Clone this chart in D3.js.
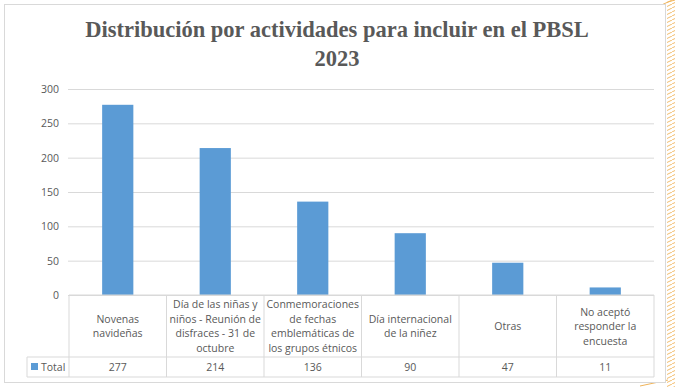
<!DOCTYPE html>
<html lang="es">
<head>
<meta charset="UTF-8">
<title>Distribución por actividades</title>
<style>
    body { margin: 0; background: #fff; }
    svg { display: block; }
    .lbl { font-family: "Open Sans", sans-serif; font-size: 10.5px; fill: #595959; }
</style>
</head>
<body>
<div id="chart"></div>
<script src="https://cdn.jsdelivr.net/npm/d3@7"></script>
<script>
// data
const categories = [
    "Novenas\nnavideñas",
    "Día de las niñas y\nniños - Reunión de\ndisfraces - 31 de\noctubre",
    "Conmemoraciones\nde fechas\nemblemáticas de\nlos grupos étnicos",
    "Día internacional\nde la niñez",
    "Otras",
    "No aceptó\nresponder la\nencuesta"
];
const totals = [277, 214, 136, 90, 47, 11];
const yTicks = [0, 50, 100, 150, 200, 250, 300];
const seriesName = "Total";
const titleLines = ["Distribución por actividades para incluir en el PBSL", "2023"];

const W = 675, H = 387;
const barColor = "#5b9bd5", grid = "#d9d9d9", txt = "#595959";

const svg = d3.select("#chart").append("svg")
    .attr("width", W).attr("height", H);

// orange hatched strip on the right
const defs = svg.append("defs");
const pat = defs.append("pattern").attr("id", "hatch")
    .attr("patternUnits", "userSpaceOnUse").attr("width", 8).attr("height", 4);
pat.append("line").attr("x1", 0).attr("y1", 4).attr("x2", 8).attr("y2", 0)
    .attr("stroke", "#f0b45a").attr("stroke-width", 0.9);
svg.append("rect").attr("x", 667).attr("y", 0).attr("width", 8).attr("height", H)
    .attr("fill", "url(#hatch)");
svg.append("path").attr("d", "M655,8 L668,2 L675,0").attr("fill", "none")
    .attr("stroke", "#f0b45a").attr("stroke-width", 1);
svg.append("path").attr("d", "M640,386 L668,380").attr("fill", "none")
    .attr("stroke", "#f0b45a").attr("stroke-width", 1);

// chart frame
svg.append("rect").attr("x", 4.5).attr("y", 4.5).attr("width", 661).attr("height", 378)
    .attr("fill", "#fff").attr("stroke", "#d9d9d9");

// title
svg.append("g").selectAll("text").data(titleLines).enter().append("text")
    .attr("x", 337).attr("y", (d, i) => 37 + i * 29)
    .attr("text-anchor", "middle")
    .style("font-family", "'Liberation Serif', serif")
    .style("font-weight", "bold").style("font-size", "22.5px")
    .style("fill", txt)
    .text(d => d);

// scales
const x = d3.scaleBand().domain(categories).range([69, 654]).paddingInner(0).paddingOuter(0);
const y = d3.scaleLinear().domain([0, 300]).range([295, 89]);

// gridlines + y labels
const yAxis = d3.axisLeft(y).tickValues(yTicks).tickSize(-(654 - 69)).tickPadding(10);
const gy = svg.append("g").attr("transform", "translate(69,0)").call(yAxis);
gy.select(".domain").remove();
gy.selectAll(".tick line").attr("stroke", grid).attr("x1", -1);
gy.selectAll(".tick text").attr("class", "lbl").attr("fill", txt).attr("x", -10);

// bars
const bw = x.bandwidth() * 0.32;
svg.append("g").selectAll("rect").data(totals).enter().append("rect")
    .attr("x", (d, i) => x(categories[i]) + x.bandwidth() / 2 - bw / 2)
    .attr("y", d => y(d))
    .attr("width", bw)
    .attr("height", d => y(0) - y(d))
    .attr("fill", barColor);

// data table
const tTop = 295, tMid = 357, tBot = 377, legendLeft = 27;
const tbl = svg.append("g").attr("stroke", grid).attr("fill", "none");
tbl.append("line").attr("x1", 69).attr("x2", 654).attr("y1", tTop).attr("y2", tTop);
tbl.append("line").attr("x1", legendLeft).attr("x2", 654).attr("y1", tMid).attr("y2", tMid);
tbl.append("line").attr("x1", legendLeft).attr("x2", 654).attr("y1", tBot).attr("y2", tBot);
tbl.append("line").attr("x1", legendLeft).attr("x2", legendLeft).attr("y1", tMid).attr("y2", tBot);
tbl.selectAll(".v").data(categories.concat(["end"])).enter().append("line")
    .attr("x1", (d, i) => 69 + i * x.bandwidth())
    .attr("x2", (d, i) => 69 + i * x.bandwidth())
    .attr("y1", tTop).attr("y2", tBot);

// category labels
const lineH = 14.5;
const cat = svg.append("g").selectAll("text").data(categories).enter().append("text")
    .attr("class", "lbl").attr("text-anchor", "middle")
    .attr("transform", d => {
        const n = d.split("\n").length;
        const y0 = (tTop + tMid) / 2 - (n - 1) * lineH / 2 + 4;
        return `translate(${x(d) + x.bandwidth() / 2},${y0})`;
    });
cat.selectAll("tspan").data(d => d.split("\n")).enter().append("tspan")
    .attr("x", 0).attr("dy", (d, i) => i === 0 ? 0 : lineH)
    .text(d => d);

// values row
svg.append("g").selectAll("text").data(totals).enter().append("text")
    .attr("class", "lbl").attr("text-anchor", "middle")
    .attr("x", (d, i) => x(categories[i]) + x.bandwidth() / 2)
    .attr("y", 371)
    .text(d => d);

// legend key
svg.append("rect").attr("x", 31).attr("y", 363).attr("width", 7).attr("height", 7).attr("fill", barColor);
svg.append("text").attr("class", "lbl").attr("x", 41).attr("y", 371).text(seriesName);
</script>
</body>
</html>
